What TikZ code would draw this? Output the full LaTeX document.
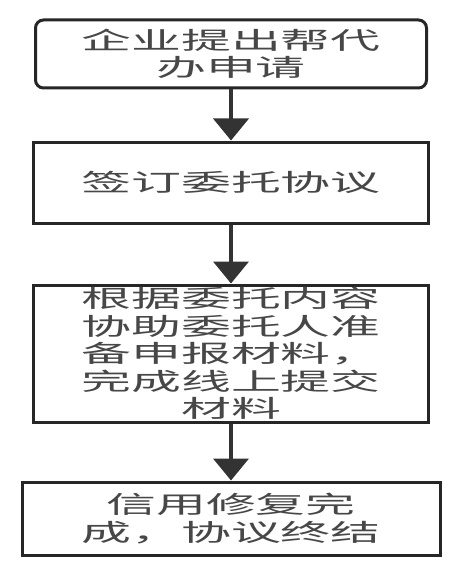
\documentclass[tikz,border=0pt]{standalone}
\usepackage{fontspec}
\newfontfamily\cjk[FakeStretch=2.08]{Noto Sans CJK SC}
\usetikzlibrary{arrows.meta}
\tikzset{
  stepbox/.style={draw=black!85,line width=3pt,fill=white,text=black!72,align=center,
    font=\cjk\fontsize{24}{27.5}\selectfont,inner sep=0pt},
  flow/.style={line width=4pt,draw=black!80,-{Triangle[width=35pt,length=22pt]}}
}
\begin{document}
\begin{tikzpicture}[x=1pt,y=-1pt]
\useasboundingbox (0,0) rectangle (467,575);
\node[stepbox,rounded corners=8pt,minimum width=391pt,minimum height=68pt] (apply) at (231,54) {企业提出帮代\\办申请};
\node[stepbox,minimum width=395pt,minimum height=81pt] (sign) at (231,182.5) {签订委托协议};
\node[stepbox,minimum width=395pt,minimum height=137pt] (prepare) at (231,353.5) {根据委托内容\\协助委托人准\\备申报材料，\\完成线上提交\\材料};
\node[stepbox,minimum width=418pt,minimum height=73pt] (finish) at (231,518.5) {信用修复完\\成，协议终结};
\draw[flow] (apply.south) -- (sign.north);
\draw[flow] (sign.south) -- (prepare.north);
\draw[flow] (prepare.south) -- (finish.north);
\end{tikzpicture}
\end{document}
